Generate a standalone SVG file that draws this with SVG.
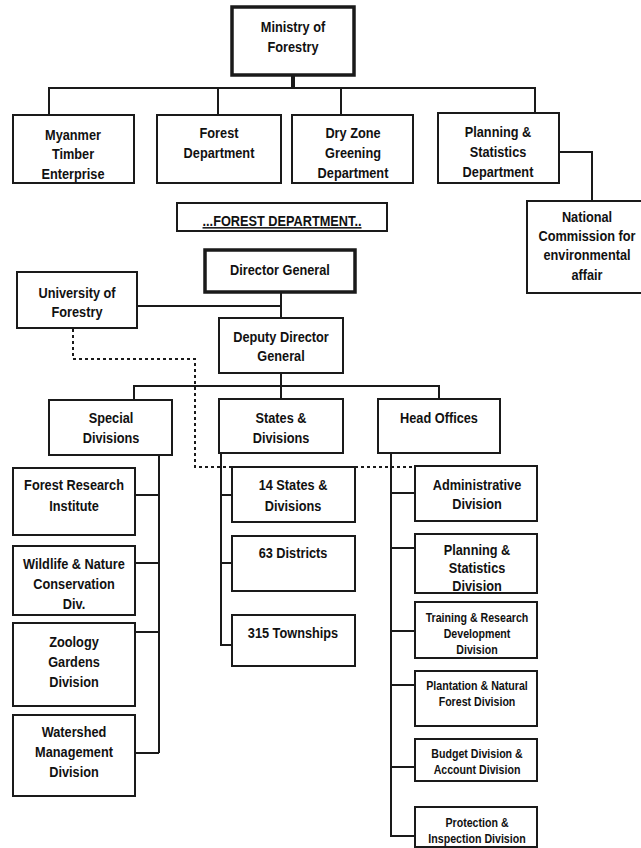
<svg xmlns="http://www.w3.org/2000/svg" width="641" height="848" viewBox="0 0 641 848">
<style>
.box{fill:#fff;stroke:#1a1a1a;stroke-width:2}
.thick{stroke-width:3.5}
.ln{fill:none;stroke:#1a1a1a;stroke-width:2}
.dot{fill:none;stroke:#1a1a1a;stroke-width:2;stroke-dasharray:3 3}
text{font-family:"Liberation Sans",Arial,sans-serif;font-weight:bold;font-size:15px;fill:#111;text-anchor:middle}
.s text{font-size:12.5px}
</style>
<rect width="641" height="848" fill="#fff"/>
<g id="connectors">
<path class="ln" d="M293 75V88" style="stroke-width:4"/>
<path class="ln" d="M49 115V88H535V113M218 88V115M341 88V115"/>
<path class="ln" d="M559 152H592V201"/>
<path class="ln" d="M281 292V318M137 306H281M281 373V386M134 400V386H439V399M281 386V399"/>
<path class="ln" d="M159 455V753M135 495H159M135 563H159M135 632H159M135 753H159"/>
<path class="ln" d="M221 453V645H232M221 495H232M221 563H232"/>
<path class="ln" d="M391 453V836H415M391 493H415M391 548H415M391 631H415M391 685H415M391 767H415"/>
<path class="dot" d="M73 329V359H195V467H415"/>
</g>
<g id="ministry"><rect class="box thick" x="232" y="7" width="122" height="68"/>
<g transform="translate(293 0) scale(.85 1)"><text y="32">Ministry of</text><text y="52">Forestry</text></g></g>
<g id="mte"><rect class="box" x="13" y="115" width="121" height="68"/>
<g transform="translate(73 0) scale(.85 1)"><text y="140">Myanmer</text><text y="159">Timber</text><text y="179">Enterprise</text></g></g>
<g id="fd"><rect class="box" x="157" y="115" width="124" height="68"/>
<g transform="translate(219 0) scale(.85 1)"><text y="138">Forest</text><text y="158">Department</text></g></g>
<g id="dzgd"><rect class="box" x="292" y="115" width="121" height="68"/>
<g transform="translate(353 0) scale(.85 1)"><text y="138">Dry Zone</text><text y="158">Greening</text><text y="178">Department</text></g></g>
<g id="psd"><rect class="box" x="438" y="113" width="121" height="70"/>
<g transform="translate(498 0) scale(.85 1)"><text y="137">Planning &amp;</text><text y="157">Statistics</text><text y="177">Department</text></g></g>
<g id="ncea"><rect class="box" x="527" y="201" width="122" height="92"/>
<g transform="translate(587 0) scale(.85 1)"><text y="222">National</text><text y="241">Commission for</text><text y="260">environmental</text><text y="280">affair</text></g></g>
<g id="fdlabel"><rect class="box" x="177" y="203" width="210" height="28"/>
<g transform="translate(282 0) scale(.85 1)"><text y="226" style="text-decoration:underline">...FOREST DEPARTMENT..</text></g></g>
<g id="dg"><rect class="box thick" x="205" y="250" width="150" height="42"/>
<g transform="translate(280 0) scale(.85 1)"><text y="275">Director General</text></g></g>
<g id="uof"><rect class="box" x="17" y="272" width="120" height="56"/>
<g transform="translate(77 0) scale(.85 1)"><text y="298">University of</text><text y="317">Forestry</text></g></g>
<g id="ddg"><rect class="box" x="219" y="318" width="124" height="55"/>
<g transform="translate(281 0) scale(.85 1)"><text y="342">Deputy Director</text><text y="361">General</text></g></g>
<g id="special"><rect class="box" x="49" y="400" width="123" height="55"/>
<g transform="translate(111 0) scale(.85 1)"><text y="423">Special</text><text y="443">Divisions</text></g></g>
<g id="states"><rect class="box" x="219" y="399" width="124" height="54"/>
<g transform="translate(281 0) scale(.85 1)"><text y="423">States &amp;</text><text y="443">Divisions</text></g></g>
<g id="head"><rect class="box" x="378" y="399" width="122" height="54"/>
<g transform="translate(439 0) scale(.85 1)"><text y="423">Head Offices</text></g></g>
<g id="fri"><rect class="box" x="13" y="468" width="122" height="67"/>
<g transform="translate(74 0) scale(.85 1)"><text y="490">Forest Research</text><text y="511">Institute</text></g></g>
<g id="wnc"><rect class="box" x="13" y="546" width="122" height="69"/>
<g transform="translate(74 0) scale(.85 1)"><text y="569">Wildlife &amp; Nature</text><text y="589">Conservation</text><text y="609">Div.</text></g></g>
<g id="zgd"><rect class="box" x="13" y="623" width="122" height="83"/>
<g transform="translate(74 0) scale(.85 1)"><text y="647">Zoology</text><text y="667">Gardens</text><text y="687">Division</text></g></g>
<g id="wmd"><rect class="box" x="13" y="715" width="122" height="81"/>
<g transform="translate(74 0) scale(.85 1)"><text y="737">Watershed</text><text y="757">Management</text><text y="777">Division</text></g></g>
<g id="sd14"><rect class="box" x="232" y="467" width="123" height="55"/>
<g transform="translate(293 0) scale(.85 1)"><text y="490">14 States &amp;</text><text y="511">Divisions</text></g></g>
<g id="d63"><rect class="box" x="232" y="536" width="123" height="55"/>
<g transform="translate(293 0) scale(.85 1)"><text y="558">63 Districts</text></g></g>
<g id="t315"><rect class="box" x="232" y="615" width="123" height="51"/>
<g transform="translate(293 0) scale(.85 1)"><text y="638">315 Townships</text></g></g>
<g id="adm"><rect class="box" x="415" y="466" width="122" height="55"/>
<g transform="translate(477 0) scale(.85 1)"><text y="490">Administrative</text><text y="509">Division</text></g></g>
<g id="psdiv"><rect class="box" x="415" y="534" width="122" height="59"/>
<g transform="translate(477 0) scale(.85 1)"><text y="555">Planning &amp;</text><text y="573">Statistics</text><text y="591">Division</text></g></g>
<g id="trd" class="s"><rect class="box" x="415" y="602" width="122" height="56"/>
<g transform="translate(477 0) scale(.85 1)"><text y="622">Training &amp; Research</text><text y="638">Development</text><text y="654">Division</text></g></g>
<g id="pnf" class="s"><rect class="box" x="415" y="671" width="122" height="55"/>
<g transform="translate(477 0) scale(.85 1)"><text y="690">Plantation &amp; Natural</text><text y="706">Forest Division</text></g></g>
<g id="bad" class="s"><rect class="box" x="415" y="739" width="122" height="42"/>
<g transform="translate(477 0) scale(.85 1)"><text y="758">Budget Division &amp;</text><text y="774">Account Division</text></g></g>
<g id="pid" class="s"><rect class="box" x="415" y="807" width="122" height="40"/>
<g transform="translate(477 0) scale(.85 1)"><text y="827">Protection &amp;</text><text y="843">Inspection Division</text></g></g>
</svg>
